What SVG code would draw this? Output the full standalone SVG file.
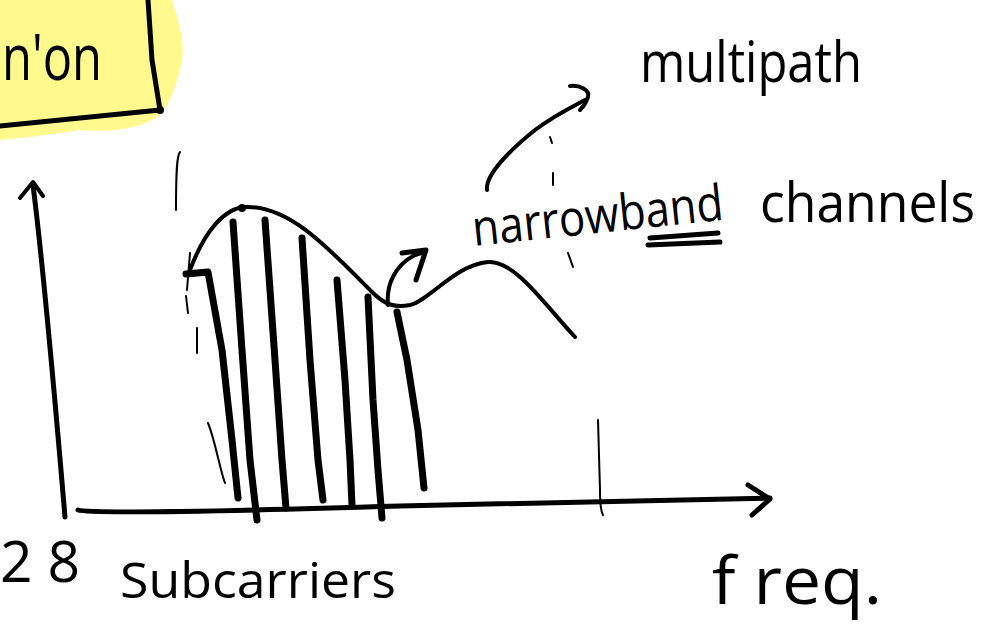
<svg xmlns="http://www.w3.org/2000/svg" width="993" height="624" viewBox="0 0 993 624">
<style>
.ink{fill:none;stroke:#000;stroke-linecap:round;stroke-linejoin:round}
.w2{stroke-width:2}
.w4{stroke-width:4}
.w5{stroke-width:5}
.w7{stroke-width:7}
.hand{font-family:"Open Sans","Liberation Sans",sans-serif;fill:#000}
</style>
<rect width="993" height="624" fill="#fff"/>
<g id="title-box">
<path d="M0 0 H172 C178 20 185 40 182 60 C178 80 172 100 160 115 C140 130 110 132 80 130 C50 135 20 138 0 140 Z" fill="#FFF98E"/>
<path class="ink w5" d="M148 0 L152 60 L160 110 L0 126"/>
<circle cx="160" cy="110" r="4" fill="#000"/>
<text class="hand" x="2" y="80" font-size="64" textLength="100" lengthAdjust="spacingAndGlyphs">n'on</text>
</g>
<g id="axes">
<path class="ink w5" d="M65 517 C55 400 45 280 33 185"/>
<path class="ink w4" d="M20 198 L33 182 L43 196"/>
<path class="ink w5" d="M78 510 C90 514 200 512 400 506 L770 498"/>
<path class="ink w5" d="M748 485 L770 499 L752 515"/>
</g>
<g id="channel-curve">
<path class="ink w4" d="M190 270 C205 230 225 208 245 207 C290 205 330 250 372 292 C385 305 395 308 410 305 C430 300 455 265 488 262 C515 260 545 305 575 337"/>
<circle cx="242" cy="208" r="4" fill="#000"/>
</g>
<g id="subcarriers">
<path class="ink w7" d="M186 274 L208 272 L222 350 L232 440 L238 498"/>
<path class="ink w7" d="M233 222 L242 350 L250 460 L257 520"/>
<path class="ink w7" d="M265 220 L275 360 L282 460 L286 508"/>
<path class="ink w7" d="M302 238 L310 360 L318 460 L323 500"/>
<path class="ink w7" d="M337 280 L345 380 L350 460 L352 505"/>
<path class="ink w7" d="M368 297 L373 400 L378 470 L382 518"/>
<path class="ink w7" d="M397 312 L407 360 L418 430 L424 488"/>
</g>
<g id="guides">
<path class="ink w2" d="M180 152 C177 155 176 170 176 210"/>
<path class="ink w2" d="M190 253 L187 290 M186 296 L188 313"/>
<path class="ink w2" d="M197 328 L197 353"/>
<path class="ink w2" d="M208 423 C215 440 220 470 225 483"/>
<path class="ink w2" d="M598 420 L600 490 C600 500 600 510 603 515"/>
<path class="ink w2" d="M550 137 L552 143"/>
<path class="ink w2" d="M553 173 L553 185"/>
<path class="ink w2" d="M568 253 L573 267"/>
</g>
<g id="connectors">
<path class="ink w4" d="M487 190 C485 175 510 150 535 130 C555 115 570 108 585 100"/>
<path class="ink w4" d="M570 86 C580 85 590 90 588 97 C586 103 582 108 580 110"/>
<path class="ink w4" d="M388 305 C386 285 395 265 415 255 L425 252"/>
<path class="ink w5" d="M402 253 L426 250 L416 280"/>
</g>
<g id="labels">
<text class="hand" x="640" y="82" font-size="56" textLength="222" lengthAdjust="spacingAndGlyphs">multipath</text>
<text class="hand" x="474" y="246" font-size="50" textLength="252" lengthAdjust="spacingAndGlyphs" transform="rotate(-6 474 246)">narrowband</text>
<path class="ink w5" d="M650 238 L718 233 M648 245 L720 242"/>
<text class="hand" x="760" y="222" font-size="54" textLength="215" lengthAdjust="spacingAndGlyphs">channels</text>
<text class="hand" x="0" y="582" font-size="56" textLength="80" lengthAdjust="spacingAndGlyphs">2 8</text>
<text class="hand" x="120" y="598" font-size="50" textLength="276" lengthAdjust="spacingAndGlyphs">Subcarriers</text>
<text class="hand" x="712" y="604" font-size="66" textLength="170" lengthAdjust="spacingAndGlyphs">f req.</text>
</g>
</svg>
